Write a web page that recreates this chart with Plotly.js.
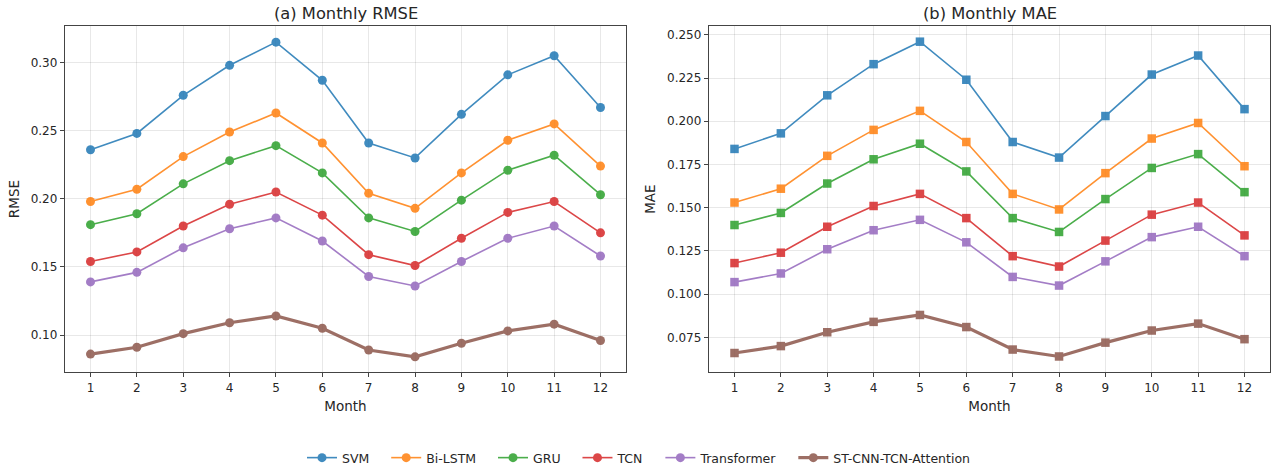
<!DOCTYPE html>
<html><head><meta charset="utf-8">
<script src="https://cdn.plot.ly/plotly-3.0.1.min.js"></script>
<style>body{margin:0;padding:0;background:#fff}#chart{width:1277px;height:473px}</style>
</head><body><div id="chart"></div>
<script>
const months = [1,2,3,4,5,6,7,8,9,10,11,12];
const models = ["SVM","Bi-LSTM","GRU","TCN","Transformer","ST-CNN-TCN-Attention"];
const colors = ["#1f77b4","#ff7f0e","#2ca02c","#d62728","#9467bd","#8c564b"];

const rmseSVM = [0.236,0.248,0.276,0.298,0.315,0.287,0.241,0.230,0.262,0.291,0.305,0.267];
const rmseBiLSTM = [0.198,0.207,0.231,0.249,0.263,0.241,0.204,0.193,0.219,0.243,0.255,0.224];
const rmseGRU = [0.181,0.189,0.211,0.228,0.239,0.219,0.186,0.176,0.199,0.221,0.232,0.203];
const rmseTCN = [0.154,0.161,0.180,0.196,0.205,0.188,0.159,0.151,0.171,0.190,0.198,0.175];
const rmseTransformer = [0.139,0.146,0.164,0.178,0.186,0.169,0.143,0.136,0.154,0.171,0.180,0.158];
const rmseST = [0.086,0.091,0.101,0.109,0.114,0.105,0.089,0.084,0.094,0.103,0.108,0.096];

const maeSVM = [0.184,0.193,0.215,0.233,0.246,0.224,0.188,0.179,0.203,0.227,0.238,0.207];
const maeBiLSTM = [0.153,0.161,0.180,0.195,0.206,0.188,0.158,0.149,0.170,0.190,0.199,0.174];
const maeGRU = [0.140,0.147,0.164,0.178,0.187,0.171,0.144,0.136,0.155,0.173,0.181,0.159];
const maeTCN = [0.118,0.124,0.139,0.151,0.158,0.144,0.122,0.116,0.131,0.146,0.153,0.134];
const maeTransformer = [0.107,0.112,0.126,0.137,0.143,0.130,0.110,0.105,0.119,0.133,0.139,0.122];
const maeST = [0.066,0.070,0.078,0.084,0.088,0.081,0.068,0.064,0.072,0.079,0.083,0.074];

const rmseSeries = [rmseSVM,rmseBiLSTM,rmseGRU,rmseTCN,rmseTransformer,rmseST];
const maeSeries = [maeSVM,maeBiLSTM,maeGRU,maeTCN,maeTransformer,maeST];

const W = 1277, H = 473;
const traces = [];
models.forEach((m,i)=>{
  const best = i === 5;
  const legendName = i < 5 ? m + '\u00a0\u00a0\u00a0' : m;
  traces.push({
    x: months, y: rmseSeries[i], name: legendName, type: 'scatter', mode: 'lines+markers',
    xaxis: 'x', yaxis: 'y', legendgroup: m, showlegend: true, opacity: 0.85,
    line: {color: colors[i], width: best ? 3.2 : 1.6},
    marker: {symbol: 'circle', size: 9, color: colors[i]}
  });
  traces.push({
    x: months, y: maeSeries[i], name: legendName, type: 'scatter', mode: 'lines+markers',
    xaxis: 'x2', yaxis: 'y2', legendgroup: m, showlegend: false, opacity: 0.85,
    line: {color: colors[i], width: best ? 3.2 : 1.6},
    marker: {symbol: 'square', size: 8.5, color: colors[i]}
  });
});

const font = {family: 'DejaVu Sans, sans-serif', size: 12, color: '#262626'};
const axBase = {
  showline: true, linecolor: '#444', linewidth: 1.2, mirror: true,
  ticks: 'outside', ticklen: 4, tickcolor: '#444', tickwidth: 1,
  showgrid: true, gridcolor: 'rgba(0,0,0,0.09)', gridwidth: 1,
  zeroline: false, tickfont: {family: font.family, size: 12, color: '#262626'}
};
const yDom = [(H-373)/H, (H-26)/H];
const layout = {
  width: W, height: H, margin: {l:0,r:0,t:0,b:0},
  paper_bgcolor: '#fff', plot_bgcolor: '#fff', font: font,
  xaxis: Object.assign({}, axBase, {domain: [65/W, 626/W], range: [0.45, 12.55], tickvals: months, ticktext: months.map(String),
    title: {text: 'Month', font: {size: 13.5}, standoff: 7}}),
  yaxis: Object.assign({}, axBase, {domain: yDom, range: [0.0727, 0.3269], dtick: 0.05, tick0: 0, tickformat: '.2f',
    title: {text: 'RMSE', font: {size: 13.5}, standoff: 8}}),
  xaxis2: Object.assign({}, axBase, {anchor: 'y2', domain: [709/W, 1270/W], range: [0.45, 12.55], tickvals: months, ticktext: months.map(String),
    title: {text: 'Month', font: {size: 13.5}, standoff: 7}}),
  yaxis2: Object.assign({}, axBase, {anchor: 'x2', domain: yDom, range: [0.0549, 0.2551], dtick: 0.025, tick0: 0, tickformat: '.3f',
    title: {text: 'MAE', font: {size: 13.5}, standoff: 8}}),
  annotations: [
    {text: '(a) Monthly RMSE', xref: 'paper', yref: 'paper', x: 345.5/W, y: (H-14)/H, xanchor: 'center', yanchor: 'middle', showarrow: false, font: {size: 16.3, color: '#262626'}},
    {text: '(b) Monthly MAE', xref: 'paper', yref: 'paper', x: 989.5/W, y: (H-14)/H, xanchor: 'center', yanchor: 'middle', showarrow: false, font: {size: 16.3, color: '#262626'}}
  ],
  legend: {orientation: 'h', x: 0.5, xanchor: 'center', y: (H-459)/H, yanchor: 'middle',
    font: {size: 12.5, color: '#262626'}, itemwidth: 30, tracegroupgap: 0}
};
Plotly.newPlot('chart', traces, layout, {staticPlot: true, displayModeBar: false});
</script></body></html>
